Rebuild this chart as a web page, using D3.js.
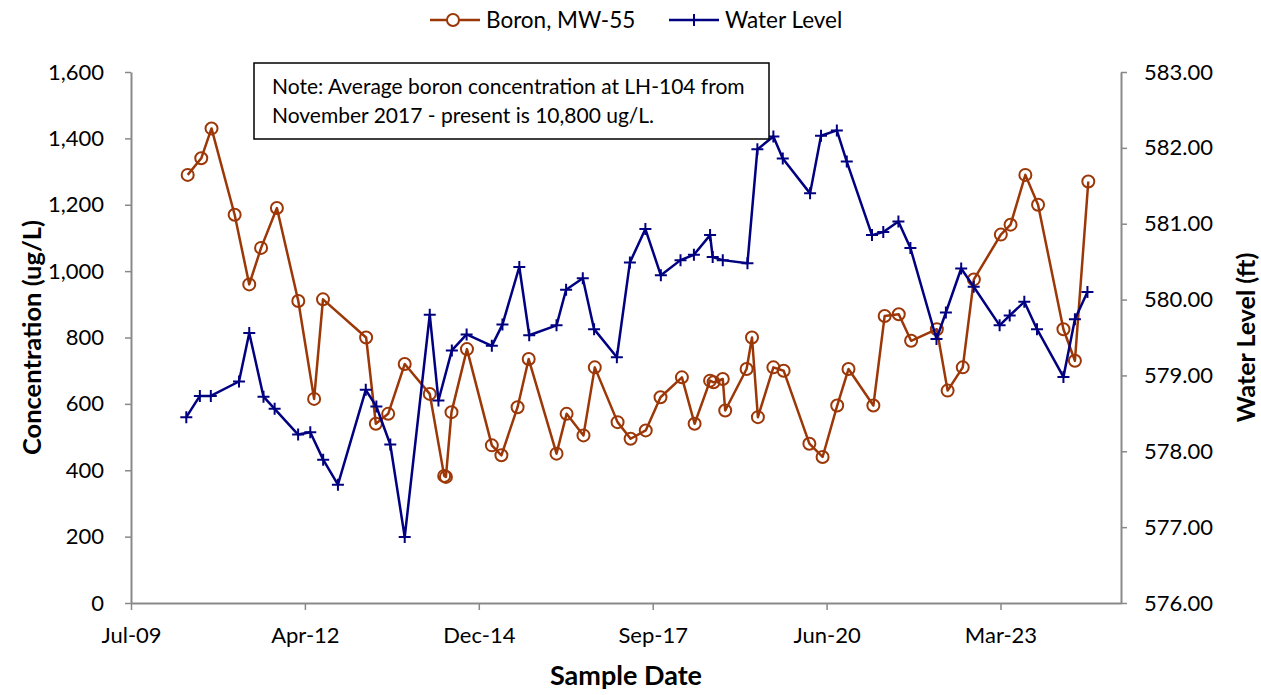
<!DOCTYPE html>
<html>
<head>
<meta charset="utf-8">
<script src="https://cdn.jsdelivr.net/npm/d3@7"></script>
<style>
  body { margin: 0; background: #fff; }
  svg text { font-family: Lato, "Liberation Sans", sans-serif; fill: #000; }
</style>
</head>
<body>
<svg id="chart" width="1261" height="695"></svg>
<script>
// ---------- data ----------
const boronDates = ["2010-05-28","2010-08-14","2010-10-12","2011-02-22","2011-05-17","2011-07-24","2011-10-23",
  "2012-02-23","2012-05-24","2012-07-14","2013-03-19","2013-05-14","2013-07-24","2013-10-27","2014-03-20",
  "2014-06-11","2014-06-21","2014-07-23","2014-10-20","2015-03-12","2015-05-06","2015-08-07","2015-10-10",
  "2016-03-18","2016-05-15","2016-08-20","2016-10-24","2017-03-04","2017-05-18","2017-08-13","2017-11-06",
  "2018-03-09","2018-05-21","2018-08-18","2018-09-07","2018-10-30","2018-11-13","2019-03-16","2019-04-16",
  "2019-05-20","2019-08-17","2019-10-15","2020-03-11","2020-05-26","2020-08-18","2020-10-22","2021-03-14",
  "2021-05-18","2021-08-07","2021-10-17","2022-03-14","2022-05-15","2022-08-10","2022-10-13","2023-03-17",
  "2023-05-12","2023-08-05","2023-10-17","2024-03-11","2024-05-16","2024-08-01"];
const boronValues = [1290,1340,1430,1170,960,1070,1190,
  910,615,915,800,540,570,720,630,
  383,380,575,765,475,445,590,735,
  450,570,505,710,545,495,520,620,
  680,540,670,665,675,580,705,800,
  560,710,700,480,440,595,705,595,
  865,870,790,825,640,710,975,1110,
  1140,1290,1200,825,730,1270];

const waterDates = ["2010-05-20","2010-08-06","2010-10-08","2011-03-19","2011-05-17","2011-08-07","2011-10-10",
  "2012-02-22","2012-05-02","2012-07-15","2012-10-08","2013-03-17","2013-05-17","2013-08-05","2013-10-27",
  "2014-03-20","2014-05-09","2014-07-25","2014-10-18","2015-03-12","2015-05-12","2015-08-17","2015-10-13",
  "2016-03-18","2016-05-12","2016-08-16","2016-10-20","2017-02-28","2017-05-14","2017-08-11","2017-11-08",
  "2018-03-01","2018-05-17","2018-08-18","2018-09-02","2018-10-30","2019-03-21","2019-05-17","2019-08-17",
  "2019-10-10","2020-03-15","2020-05-17","2020-08-16","2020-10-12","2021-03-06","2021-05-10","2021-08-05",
  "2021-10-13","2022-03-12","2022-05-05","2022-08-01","2022-10-12","2023-03-10","2023-05-07","2023-07-30",
  "2023-10-11","2024-03-11","2024-05-16","2024-07-27"];
const waterValues = [578.45,578.73,578.73,578.92,579.56,578.72,578.56,
  578.22,578.25,577.89,577.56,578.81,578.59,578.09,576.87,
  579.80,578.67,579.33,579.54,579.39,579.67,580.43,579.53,
  579.66,580.13,580.28,579.61,579.24,580.49,580.93,580.32,
  580.52,580.59,580.85,580.56,580.52,580.48,581.98,582.15,
  581.86,581.40,582.16,582.23,581.82,580.85,580.89,581.03,
  580.68,579.48,579.83,580.41,580.17,579.66,579.79,579.97,
  579.61,578.98,579.74,580.10];

const xDomain = ["2009-07-06","2025-02-05"];
const xTickDates = ["2009-07-06","2012-04-01","2014-12-27","2017-09-22","2020-06-18","2023-03-15"];
const leftTicks = [0,200,400,600,800,1000,1200,1400,1600];
const rightTicks = [576,577,578,579,580,581,582,583];

const seriesNames = ["Boron, MW-55","Water Level"];
const noteLines = ["Note: Average boron concentration at LH-104 from","November 2017 - present is 10,800 ug/L."];

// ---------- layout ----------
const M = {left:131, right:1121, top:72, bottom:603};
const ORANGE = "#9c3707", BLUE = "#000080", AXIS = "#898989";
const parse = d3.utcParse("%Y-%m-%d");
const svg = d3.select("#chart");

const x = d3.scaleUtc().domain(xDomain.map(parse)).range([M.left, M.right]);
const yL = d3.scaleLinear().domain([0,1600]).range([M.bottom, M.top]);
const yR = d3.scaleLinear().domain([576,583]).range([M.bottom, M.top]);

// axes
const fmtL = d3.format(",");
const fmtR = d3.format(".2f");
const fmtX = d3.utcFormat("%b-%y");

function styleAxis(g){
  g.selectAll("path").attr("stroke", AXIS).attr("stroke-width", 2);
  g.selectAll("line").attr("stroke", AXIS).attr("stroke-width", 1.5);
  g.selectAll("text").attr("font-size", 22).attr("font-family","Lato, sans-serif").attr("fill","#000");
}

svg.append("g").attr("transform",`translate(${M.left},0)`)
  .call(d3.axisLeft(yL).tickValues(leftTicks).tickFormat(fmtL).tickSize(6).tickSizeOuter(0).tickPadding(21))
  .call(styleAxis);

svg.append("g").attr("transform",`translate(${M.right},0)`)
  .call(d3.axisRight(yR).tickValues(rightTicks).tickFormat(fmtR).tickSize(6).tickSizeOuter(0).tickPadding(17))
  .call(styleAxis);

svg.append("g").attr("transform",`translate(0,${M.bottom})`)
  .call(d3.axisBottom(x).tickValues(xTickDates.map(parse)).tickFormat(fmtX).tickSize(7).tickSizeOuter(0).tickPadding(17))
  .call(styleAxis);

// axis titles
svg.append("text").attr("transform",`translate(41,${(M.top+M.bottom)/2}) rotate(-90)`)
  .attr("text-anchor","middle").attr("font-size",25.5).attr("font-weight","bold").text("Concentration (ug/L)");
svg.append("text").attr("transform",`translate(1255,${(M.top+M.bottom)/2}) rotate(-90)`)
  .attr("text-anchor","middle").attr("font-size",25).attr("font-weight","bold").text("Water Level (ft)");
svg.append("text").attr("x",(M.left+M.right)/2).attr("y",685)
  .attr("text-anchor","middle").attr("font-size",27).attr("font-weight","bold").text("Sample Date");

// series
const boron = boronDates.map((d,i)=>({date:parse(d), v:boronValues[i]}));
const water = waterDates.map((d,i)=>({date:parse(d), v:waterValues[i]}));

svg.append("path").datum(boron)
  .attr("d", d3.line().x(d=>x(d.date)).y(d=>yL(d.v)))
  .attr("fill","none").attr("stroke",ORANGE).attr("stroke-width",2.5).attr("stroke-linejoin","round");
svg.append("g").selectAll("circle").data(boron).join("circle")
  .attr("cx",d=>x(d.date)).attr("cy",d=>yL(d.v)).attr("r",6)
  .attr("fill","none").attr("stroke",ORANGE).attr("stroke-width",2);

svg.append("path").datum(water)
  .attr("d", d3.line().x(d=>x(d.date)).y(d=>yR(d.v)))
  .attr("fill","none").attr("stroke",BLUE).attr("stroke-width",2.5).attr("stroke-linejoin","round");
svg.append("g").selectAll("path").data(water).join("path")
  .attr("transform",d=>`translate(${x(d.date)},${yR(d.v)})`)
  .attr("d","M-6,0H6M0,-6V6")
  .attr("fill","none").attr("stroke",BLUE).attr("stroke-width",2);

// note box
const note = svg.append("g");
note.append("rect").attr("x",254).attr("y",63).attr("width",515).attr("height",76)
  .attr("fill","#fff").attr("stroke","#000").attr("stroke-width",1.5);
note.selectAll("text").data(noteLines).join("text")
  .attr("x",272).attr("y",(d,i)=>94+i*29).attr("font-size",21).text(d=>d);

// legend
const leg = svg.append("g");
const legItems = [
  {name:seriesNames[0], color:ORANGE, x0:430, type:"circle"},
  {name:seriesNames[1], color:BLUE, x0:669, type:"plus"}
];
legItems.forEach(it=>{
  leg.append("line").attr("x1",it.x0).attr("x2",it.x0+50).attr("y1",20).attr("y2",20)
    .attr("stroke",it.color).attr("stroke-width",2.5);
  if(it.type==="circle"){
    leg.append("circle").attr("cx",it.x0+23).attr("cy",20).attr("r",6)
      .attr("fill","#fff").attr("stroke",it.color).attr("stroke-width",2);
  } else {
    leg.append("path").attr("transform",`translate(${it.x0+25},20)`).attr("d","M-6,0H6M0,-6V6")
      .attr("stroke",it.color).attr("stroke-width",2);
  }
  leg.append("text").attr("x",it.x0+56).attr("y",28).attr("font-size",22.5).text(it.name);
});
</script>
</body>
</html>
